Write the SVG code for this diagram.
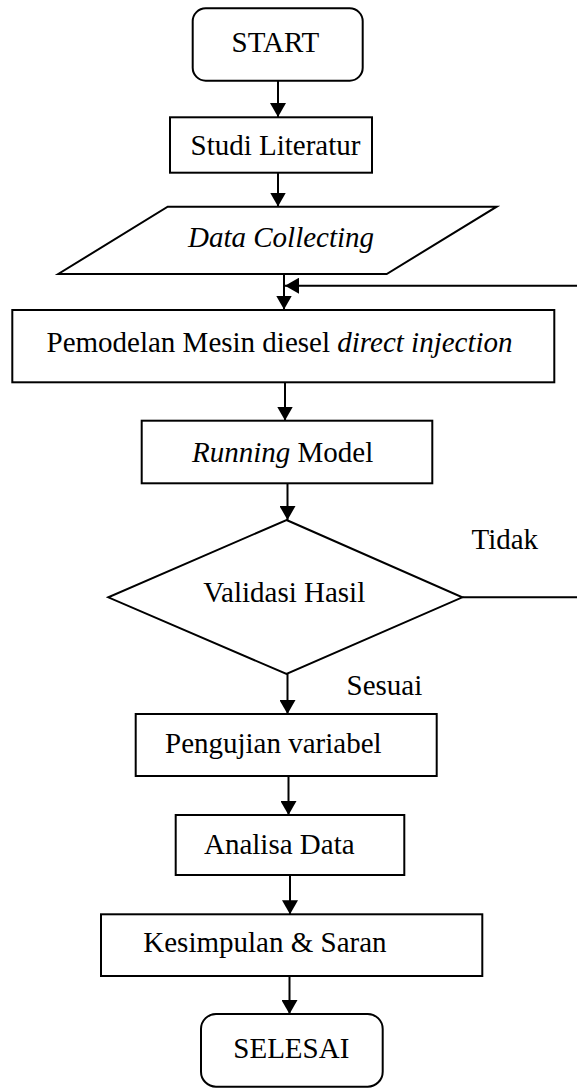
<svg xmlns="http://www.w3.org/2000/svg" width="577" height="1089" viewBox="0 0 577 1089">
  <defs>
    <marker id="arr" markerUnits="userSpaceOnUse" markerWidth="14" markerHeight="16" refX="14" refY="8" orient="auto">
      <path d="M0,0 L14,8 L0,16 z" fill="#000"/>
    </marker>
    <style>
      .shape { fill: #fff; stroke: #000; stroke-width: 2; }
      .lbl { font-family: "Liberation Serif", "Times New Roman", serif; font-size: 29px; fill: #000; }
      .it { font-style: italic; }
      .conn { fill: none; stroke: #000; stroke-width: 2; }
    </style>
  </defs>
  <rect width="577" height="1089" fill="#fff"/>

  <g id="connectors">
    <line class="conn" x1="278" y1="81" x2="278" y2="117" marker-end="url(#arr)"/>
    <line class="conn" x1="278" y1="173" x2="278" y2="206.5" marker-end="url(#arr)"/>
    <line class="conn" x1="284" y1="274" x2="284" y2="309.5" marker-end="url(#arr)"/>
    <polyline class="conn" points="462.3,597.3 595,597.3 595,285.7 285,285.7" marker-end="url(#arr)"/>
    <line class="conn" x1="285" y1="382" x2="285" y2="420.5" marker-end="url(#arr)"/>
    <line class="conn" x1="287.5" y1="484" x2="287.5" y2="520" marker-end="url(#arr)"/>
    <line class="conn" x1="287.5" y1="674" x2="287.5" y2="714" marker-end="url(#arr)"/>
    <line class="conn" x1="288.5" y1="776" x2="288.5" y2="815" marker-end="url(#arr)"/>
    <line class="conn" x1="290" y1="875" x2="290" y2="914.3" marker-end="url(#arr)"/>
    <line class="conn" x1="289.5" y1="976" x2="289.5" y2="1014" marker-end="url(#arr)"/>
  </g>

  <g id="start">
    <rect class="shape" x="192.7" y="8.3" width="170" height="72.4" rx="13" ry="13"/>
    <text class="lbl" x="231.5" y="51.7">START</text>
  </g>

  <g id="studi">
    <rect class="shape" x="170" y="117.3" width="202" height="55.4"/>
    <text class="lbl" x="190.5" y="155">Studi Literatur</text>
  </g>

  <g id="data">
    <polygon class="shape" points="167.7,206.7 496.7,206.7 386.7,274 58.3,274"/>
    <text class="lbl it" x="188" y="246.7">Data Collecting</text>
  </g>

  <g id="pemodelan">
    <rect class="shape" x="12.3" y="310" width="542" height="72.3"/>
    <text class="lbl" x="46.5" y="351.7">Pemodelan Mesin diesel <tspan class="it">direct injection</tspan></text>
  </g>

  <g id="running">
    <rect class="shape" x="141.7" y="420.7" width="290.6" height="62.6"/>
    <text class="lbl" x="192" y="461.7"><tspan class="it">Running</tspan> Model</text>
  </g>

  <g id="validasi">
    <polygon class="shape" points="286.5,520 462.3,597.3 286.5,674 108.3,597.3"/>
    <text class="lbl" x="203.3" y="601.5">Validasi Hasil</text>
  </g>

  <g id="labels">
    <text class="lbl" x="471.5" y="549.3">Tidak</text>
    <text class="lbl" x="346.5" y="695">Sesuai</text>
  </g>

  <g id="pengujian">
    <rect class="shape" x="135.7" y="714" width="301" height="62"/>
    <text class="lbl" x="165" y="753.3">Pengujian variabel</text>
  </g>

  <g id="analisa">
    <rect class="shape" x="175.7" y="815" width="228.6" height="60"/>
    <text class="lbl" x="204" y="854.3">Analisa Data</text>
  </g>

  <g id="kesimpulan">
    <rect class="shape" x="101" y="914.3" width="381.3" height="61.7"/>
    <text class="lbl" x="143.3" y="951.7">Kesimpulan &amp; Saran</text>
  </g>

  <g id="selesai">
    <rect class="shape" x="201" y="1014" width="181.7" height="72.7" rx="15" ry="15"/>
    <text class="lbl" x="233.3" y="1058.3">SELESAI</text>
  </g>
</svg>
